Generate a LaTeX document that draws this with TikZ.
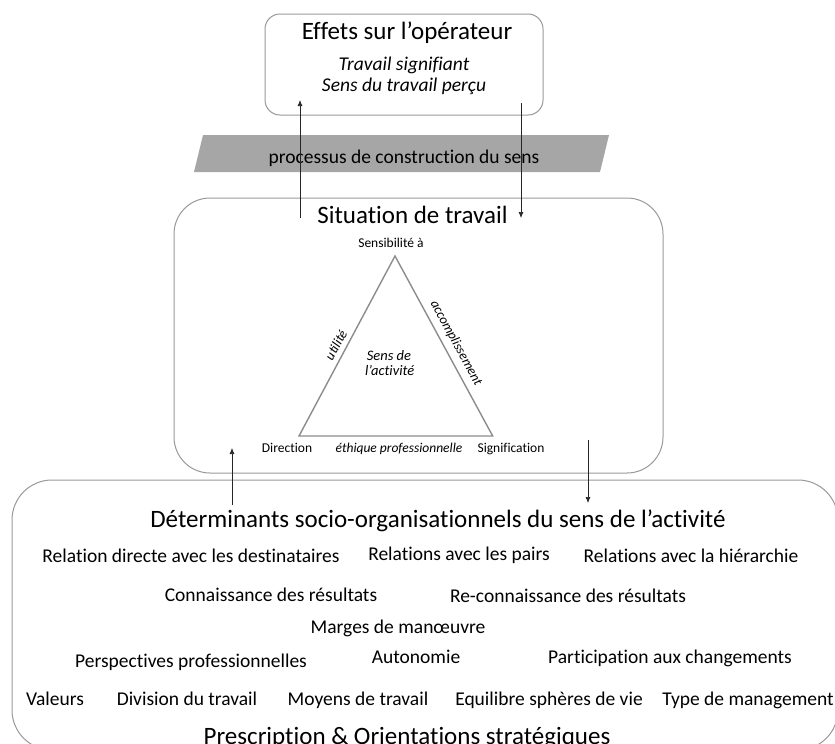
\documentclass[tikz,border=0pt]{standalone}
\usepackage{fontspec}
\setmainfont{Carlito}[Ligatures=NoCommon]
\usepackage{tikz}
\usetikzlibrary{shapes,positioning,calc}
\usetikzlibrary{arrows.meta}
\tikzstyle{arrow} = [line width=0.7pt,black!85,-{Latex[length=6pt,width=5pt]}]
\tikzstyle{frame} = [draw=black!40,line width=1pt]
\tikzstyle{head} = [font=\fontsize{25}{30}\selectfont,anchor=base,inner sep=0pt]
\tikzstyle{item} = [font=\fontsize{19.5}{23}\selectfont,anchor=base,inner sep=0pt]
\tikzstyle{small} = [font=\fontsize{13.5}{16}\selectfont,anchor=base,inner sep=0pt]

\begin{document}
\begin{tikzpicture}[x=1pt,y=-1pt]
\useasboundingbox (0,0) rectangle (835,744);
\clip (0,0) rectangle (835,744);

% effets
\draw[frame,rounded corners=15pt] (265,14) rectangle (543,115);
\node[head] (eff) at (407,39.5) {Effets sur l’opérateur};
\node[item,font=\fontsize{19.5}{23}\selectfont\itshape] (sig) at (404,70) {Travail signifiant};
\node[item,font=\fontsize{19.5}{23}\selectfont\itshape] (per) at (404,91) {Sens du travail perçu};

% processus
\fill[black!35] (203,135) -- (609,135) -- (600,172) -- (194,172) -- cycle;
\node[item] (proc) at (404,163) {processus de construction du sens};

% situation
\draw[frame,rounded corners=36pt] (174,198) rectangle (663,473);
\node[head] (sit) at (412.5,223) {Situation de travail};
\coordinate (apex) at (395,256);
\coordinate (dl) at (299,436);
\coordinate (dr) at (492.7,436);
\draw[black!45,line width=1.4pt] (apex) -- (dr) -- (dl) -- cycle;
\node[small] (sensi) at (391,247) {Sensibilité à};
\node[small] (dir) at (287,452) {Direction};
\node[small,font=\fontsize{13.5}{16}\selectfont\itshape] (eth) at (399,452) {éthique professionnelle};
\node[small] (signi) at (511,452) {Signification};
\node[small,font=\fontsize{13.5}{16}\selectfont\itshape,anchor=center,rotate=61.3] (util) at (336,345) {utilité};
\node[small,font=\fontsize{13.5}{16}\selectfont\itshape,anchor=center,rotate=-61.3] (acc) at (456,343) {accomplissement};
\node[small,font=\fontsize{14.5}{16}\selectfont\itshape] (sde) at (389,360.7) {Sens de};
\node[small,font=\fontsize{14.5}{16}\selectfont\itshape] (lact) at (389.7,375.7) {l’activité};

% determinants
\draw[frame,rounded corners=40pt] (12,480) rectangle (838,750);
\node[head] (det) at (438,527) {Déterminants socio-organisationnels du sens de l’activité};
\node[item] (dest) at (191,562) {Relation directe avec les destinataires};
\node[item] (pairs) at (459,560) {Relations avec les pairs};
\node[item] (hier) at (691,562) {Relations avec la hiérarchie};
\node[item] (conn) at (271,601) {Connaissance des résultats};
\node[item] (reconn) at (568,602) {Re-connaissance des résultats};
\node[item] (marges) at (398,633) {Marges de manœuvre};
\node[item] (persp) at (191,667) {Perspectives professionnelles};
\node[item] (auto) at (416,663) {Autonomie};
\node[item] (part) at (670,663) {Participation aux changements};
\node[item] (val) at (55,705) {Valeurs};
\node[item] (div) at (187,705) {Division du travail};
\node[item] (moy) at (358,705) {Moyens de travail};
\node[item] (equi) at (549,705) {Equilibre sphères de vie};
\node[item] (type) at (748,705) {Type de management};
\node[head] (presc) at (407,744) {Prescription \& Orientations stratégiques};

% fleches
\coordinate (s1) at (300,218);
\coordinate (e1) at (300,100);
\coordinate (s2) at (521,103);
\coordinate (e2) at (521,218);
\coordinate (s3) at (232,505);
\coordinate (e3) at (232,448);
\coordinate (s4) at (588,440);
\coordinate (e4) at (588,503);
\draw[arrow] (s1) -- (e1);
\draw[arrow] (s2) -- (e2);
\draw[arrow] (s3) -- (e3);
\draw[arrow] (s4) -- (e4);
\end{tikzpicture}
\end{document}
